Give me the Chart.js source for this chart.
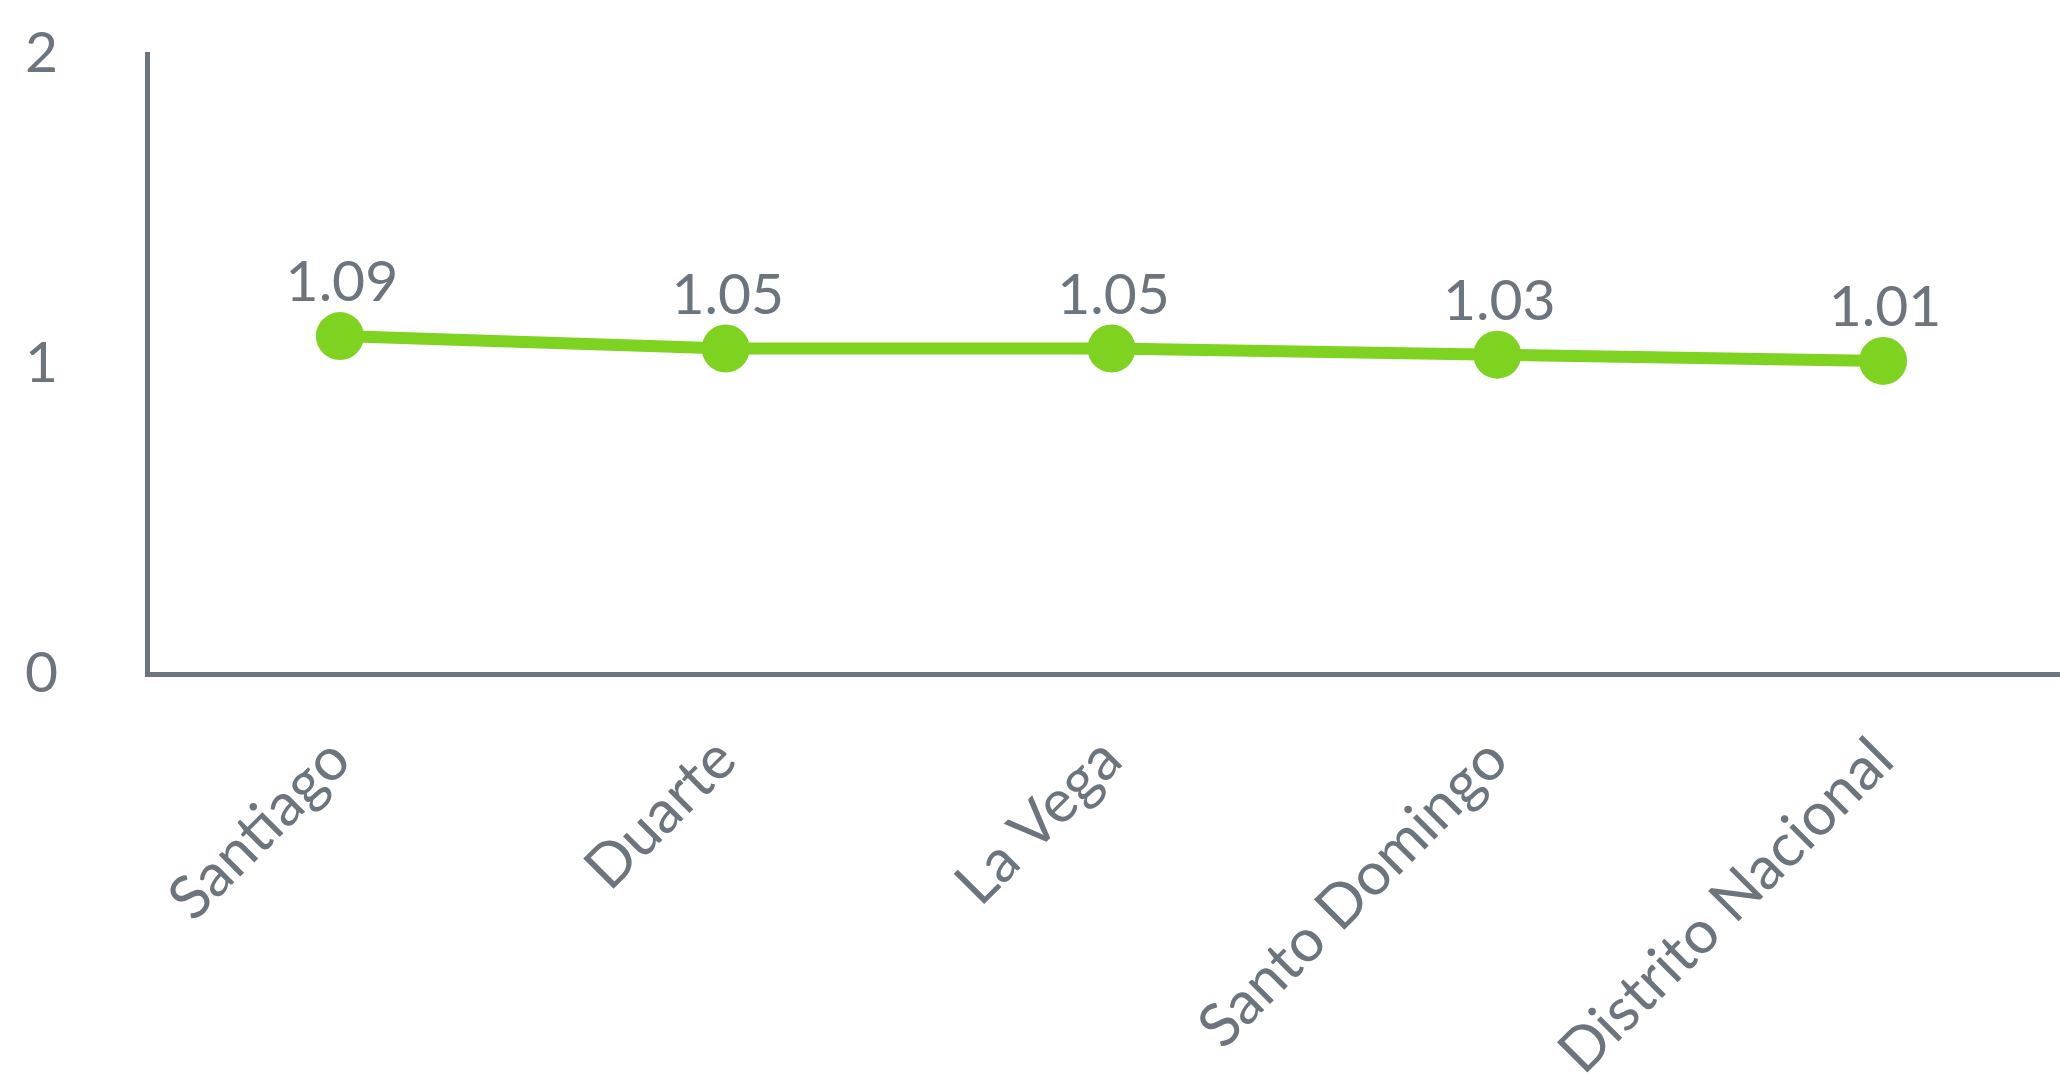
<!DOCTYPE html>
<html>
<head>
<meta charset="utf-8">
<script src="https://cdn.jsdelivr.net/npm/chart.js@4"></script>
<style>
  html, body { margin: 0; padding: 0; background: #fff; overflow: hidden; }
  #myChart { display: block; }
</style>
</head>
<body>
<canvas id="myChart" width="2080" height="1074"></canvas>
<script>
// 데이터
const labels = ['Santiago', 'Duarte', 'La Vega', 'Santo Domingo', 'Distrito Nacional'];
const values = [1.09, 1.05, 1.05, 1.03, 1.01];
const yTicks = [0, 1, 2];

const gray = '#6c757d';
const green = '#7ed321';

// 점 위에 값 표시
const valueLabels = {
  id: 'valueLabels',
  afterDatasetsDraw(chart) {
    const ctx = chart.ctx;
    const meta = chart.getDatasetMeta(0);
    ctx.save();
    ctx.font = '57px Lato';
    ctx.fillStyle = gray;
    ctx.textAlign = 'center';
    ctx.textBaseline = 'alphabetic';
    meta.data.forEach(function(pt, i) {
      ctx.fillText(values[i].toFixed(2), pt.x + 2, pt.y - 35);
    });
    ctx.restore();
  }
};

const config = {
  type: 'line',
  data: {
    labels: labels,
    datasets: [{
      data: values,
      borderColor: green,
      backgroundColor: green,
      borderWidth: 12,
      tension: 0,
      pointRadius: 24,
      pointHoverRadius: 24,
      pointBorderWidth: 0,
      pointBackgroundColor: green
    }]
  },
  options: {
    responsive: false,
    animation: false,
    layout: { autoPadding: false, padding: { top: 54, right: 4, left: 0, bottom: 0 } },
    plugins: {
      legend: { display: false },
      tooltip: { enabled: false }
    },
    scales: {
      x: {
        offset: true,
        grid: { display: false, drawTicks: false },
        border: { display: true, color: gray, width: 5 },
        ticks: {
          color: gray,
          font: { family: 'Lato', size: 60 },
          maxRotation: 45,
          minRotation: 45,
          autoSkip: false,
          padding: 50
        },
        afterFit: function(scale) {
          scale.height = 400;
          scale.paddingLeft = 0;
          scale.paddingRight = 0;
        }
      },
      y: {
        min: 0,
        max: 2,
        afterBuildTicks: function(scale) {
          scale.ticks = yTicks.map(function(v) { return { value: v }; });
        },
        grid: { display: false, drawTicks: false },
        border: { display: true, color: gray, width: 5 },
        ticks: {
          color: gray,
          font: { family: 'Lato', size: 57 },
          padding: 89
        },
        afterFit: function(scale) {
          scale.width = 147;
          scale.paddingTop = 0;
          scale.paddingBottom = 0;
        }
      }
    }
  },
  plugins: [valueLabels]
};

document.fonts.load('57px Lato').then(function() {
  new Chart(document.getElementById('myChart'), config);
});
</script>
</body>
</html>
